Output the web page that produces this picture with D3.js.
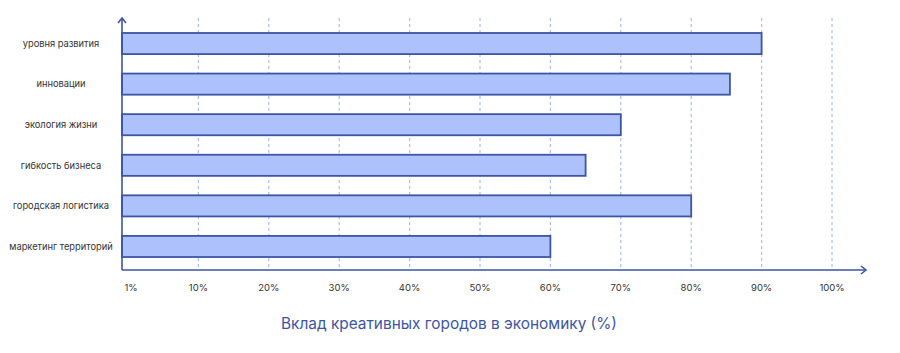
<!DOCTYPE html>
<html>

<head>
    <meta charset="utf-8">
    <style>
        body {
            margin: 0;
            background: #fff;
        }
        text {
            font-family: Inter, "Noto Sans", sans-serif;
        }
        .grid line {
            stroke: #a9bef9;
            stroke-width: 1.2;
            stroke-dasharray: 3, 3;
        }
    </style>
</head>

<body>
    <svg id="container" width="900" height="353">
        <g id="body"></g>
    </svg>
</body>
<script src="https://d3js.org/d3.v7.min.js"></script>

<script>
    // data
    const categories = ["уровня развития", "инновации", "экология жизни", "гибкость бизнеса", "городская логистика", "маркетинг территорий"];
    const values = [90, 85.5, 70, 65, 80, 60];
    const tickValues = [1, 10, 20, 30, 40, 50, 60, 70, 80, 90, 100];
    const tickLabels = ["1%", "10%", "20%", "30%", "40%", "50%", "60%", "70%", "80%", "90%", "100%"];
    const title = "Вклад креативных городов в экономику (%)";

    const blue = "#3d55a5";
    const barFill = "#adc2fd";

    let body = d3.select("#body");

    let plotLeft = 122;
    let plotTop = 20;
    let plotBottom = 270;

    let xScale = d3.scaleLinear()
        .domain([0, 100])
        .range([128, 832]);

    let yScale = d3.scaleBand()
        .domain(categories)
        .range([plotTop, plotBottom])
        .paddingInner(0.48)
        .paddingOuter(0.32);

    // dashed grid lines
    body.append("g")
        .attr("class", "grid")
        .selectAll("line")
        .data(tickValues.slice(1))
        .enter()
        .append("line")
            .attr("x1", (d) => xScale(d))
            .attr("x2", (d) => xScale(d))
            .attr("y1", plotTop - 2)
            .attr("y2", plotBottom);

    // bars
    body.append("g")
        .selectAll("rect")
        .data(values)
        .enter()
        .append("rect")
            .attr("x", plotLeft)
            .attr("y", (d, i) => yScale(categories[i]))
            .attr("width", (d) => xScale(d) - plotLeft)
            .attr("height", yScale.bandwidth())
            .attr("fill", barFill)
            .attr("stroke", blue)
            .attr("stroke-width", 1.8);

    // category labels
    body.append("g")
        .selectAll("text")
        .data(categories)
        .enter()
        .append("text")
            .text((d) => d)
            .attr("x", 61)
            .attr("y", (d) => yScale(d) + yScale.bandwidth() / 2)
            .attr("dy", "0.35em")
            .attr("text-anchor", "middle")
            .attr("font-size", 9.3)
            .attr("fill", "#333");

    // x tick labels
    body.append("g")
        .selectAll("text")
        .data(tickValues)
        .enter()
        .append("text")
            .text((d, i) => tickLabels[i])
            .attr("x", (d, i) => i === 0 ? xScale(d) - 4 : xScale(d))
            .attr("y", 290.5)
            .attr("text-anchor", "middle")
            .attr("font-size", 9.5)
            .attr("fill", "#333");

    // axes with arrows
    let axes = body.append("g")
        .attr("fill", "none")
        .attr("stroke", blue)
        .attr("stroke-width", 1.6);
    axes.append("path")
        .attr("d", `M${plotLeft},${plotBottom}V${plotTop - 2}`);
    axes.append("path")
        .attr("d", `M${plotLeft - 4},${plotTop + 3}L${plotLeft},${plotTop - 2}L${plotLeft + 4},${plotTop + 3}`);
    axes.append("path")
        .attr("d", `M${plotLeft},${plotBottom}H866`);
    axes.append("path")
        .attr("d", `M861,${plotBottom - 4}L866,${plotBottom}L861,${plotBottom + 4}`);

    // axis title
    body.append("text")
        .text(title)
        .attr("x", 449)
        .attr("y", 329)
        .attr("text-anchor", "middle")
        .attr("font-size", 15.4)
        .attr("fill", blue);
</script>

</html>
